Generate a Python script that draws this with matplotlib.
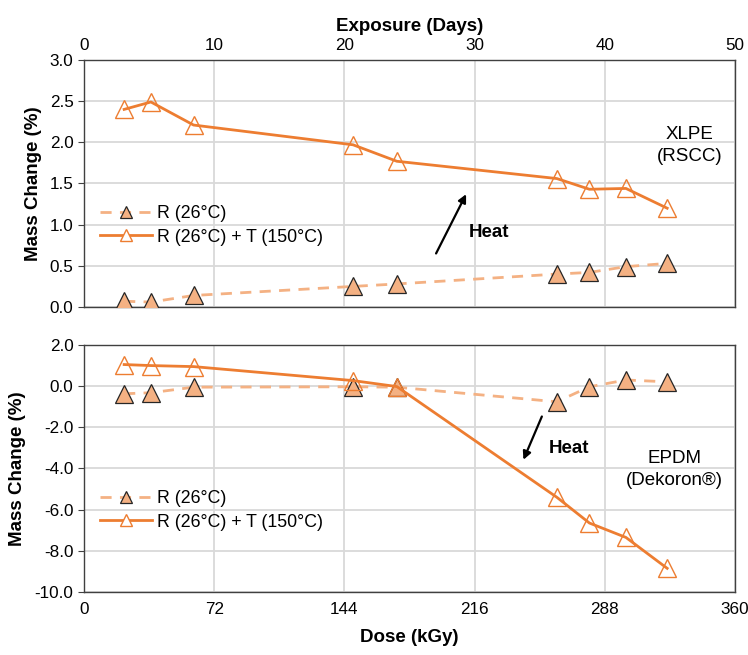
import numpy as np
import matplotlib.pyplot as plt
from matplotlib.lines import Line2D

plt.rcParams['font.family'] = ['Liberation Sans', 'DejaVu Sans']

# dose points (kGy), shared by both panels
dose = [22.2, 37.0, 60.6, 148.8, 173.0, 261.5, 279.5, 299.7, 322.5]

# XLPE (RSCC)
xlpe_r = [0.07, 0.06, 0.14, 0.25, 0.28, 0.40, 0.42, 0.49, 0.53]
xlpe_rt = [2.40, 2.49, 2.21, 1.97, 1.77, 1.56, 1.43, 1.44, 1.20]

# EPDM (Dekoron)
epdm_r = [-0.37, -0.32, -0.05, -0.03, -0.05, -0.76, -0.03, 0.30, 0.21]
epdm_rt = [1.05, 1.00, 0.95, 0.27, -0.02, -5.40, -6.65, -7.35, -8.85]

dose_ticks = [0, 72, 144, 216, 288, 360]
day_ticks = [0, 10, 20, 30, 40, 50]
KGY_PER_DAY = 7.2

c_dash = '#F4B183'
c_line = '#ED7D31'
c_grid = '#D9D9D9'

fig = plt.figure(figsize=(7.48, 6.55), dpi=100)
ax1 = fig.add_axes([0.1123, 0.5313, 0.8703, 0.3771])
ax2 = fig.add_axes([0.1123, 0.0962, 0.8703, 0.3771])

FS_TICK = 12.3
FS_LAB = 13.5


def style(ax, ylim, yticks, fmt):
    ax.set_xlim(0, 360)
    ax.set_ylim(*ylim)
    ax.set_xticks(dose_ticks)
    ax.set_yticks(yticks)
    ax.set_yticklabels([fmt % v for v in yticks])
    ax.grid(True, color=c_grid, linewidth=1.3)
    ax.set_axisbelow(True)
    for s in ax.spines.values():
        s.set_color('#404040')
        s.set_linewidth(1.0)
    ax.tick_params(axis='x', length=0, labelsize=FS_TICK, pad=7)
    ax.tick_params(axis='y', length=4, direction='out', labelsize=FS_TICK, color='#404040')
    ax.set_ylabel('Mass Change (%)', fontsize=FS_LAB, fontweight='bold', labelpad=6)


def draw(ax, r, rt):
    ax.plot(dose, r, color=c_dash, lw=2, ls=(0, (4, 3)), zorder=2)
    ax.plot(dose, r, ls='none', marker='^', ms=12.5, mfc=c_dash, mec='#262626', mew=0.9, zorder=3)
    ax.plot(dose, rt, color=c_line, lw=2, zorder=4)
    ax.plot(dose, rt, ls='none', marker='^', ms=12.5, mfc='none', mec=c_line, mew=1.0, zorder=4)


def legend(ax, y):
    h = [Line2D([], [], color=c_dash, lw=2, ls=(0, (4, 3)), marker='^', ms=9,
                mfc=c_dash, mec='#262626', mew=0.9),
         Line2D([], [], color=c_line, lw=2, marker='^', ms=9, mfc='white', mec=c_line)]
    ax.legend(h, ['R (26°C)', 'R (26°C) + T (150°C)'], loc='center left',
              bbox_to_anchor=(0.0, y), frameon=False, fontsize=12.8,
              handlelength=2.9, handletextpad=0.3, labelspacing=0.35)


style(ax1, (0, 3.0), np.arange(0, 3.01, 0.5), '%.1f')
draw(ax1, xlpe_r, xlpe_rt)
ax1.tick_params(axis='x', labelbottom=False)
legend(ax1, 0.33)
ax1.text(335, 1.96, 'XLPE\n(RSCC)', ha='center', va='center', fontsize=13.5, linespacing=1.4)
ax1.annotate('', xy=(212, 1.40), xytext=(194, 0.62),
             arrowprops=dict(arrowstyle='-|>', color='black', lw=1.6, mutation_scale=12))
ax1.text(213, 0.90, 'Heat', fontsize=13.5, fontweight='bold', va='center')

top = ax1.secondary_xaxis('top', functions=(lambda d: d / KGY_PER_DAY, lambda t: t * KGY_PER_DAY))
top.set_xticks(day_ticks)
top.tick_params(length=0, labelsize=FS_TICK, pad=5)
top.set_xlabel('Exposure (Days)', fontsize=FS_LAB, fontweight='bold', labelpad=5)
top.spines['top'].set_visible(False)

style(ax2, (-10, 2), np.arange(-10, 2.01, 2), '%.1f')
draw(ax2, epdm_r, epdm_rt)
legend(ax2, 0.33)
ax2.text(326.5, -4.05, 'EPDM\n(Dekoron®)', ha='center', va='center', fontsize=13.5, linespacing=1.4)
ax2.annotate('', xy=(242.4, -3.70), xytext=(253.8, -1.35),
             arrowprops=dict(arrowstyle='-|>', color='black', lw=1.6, mutation_scale=12))
ax2.text(257, -3.05, 'Heat', fontsize=13.5, fontweight='bold', va='center')
ax2.set_xlabel('Dose (kGy)', fontsize=FS_LAB, fontweight='bold', labelpad=9)

fig.savefig('out.png', dpi=100)
